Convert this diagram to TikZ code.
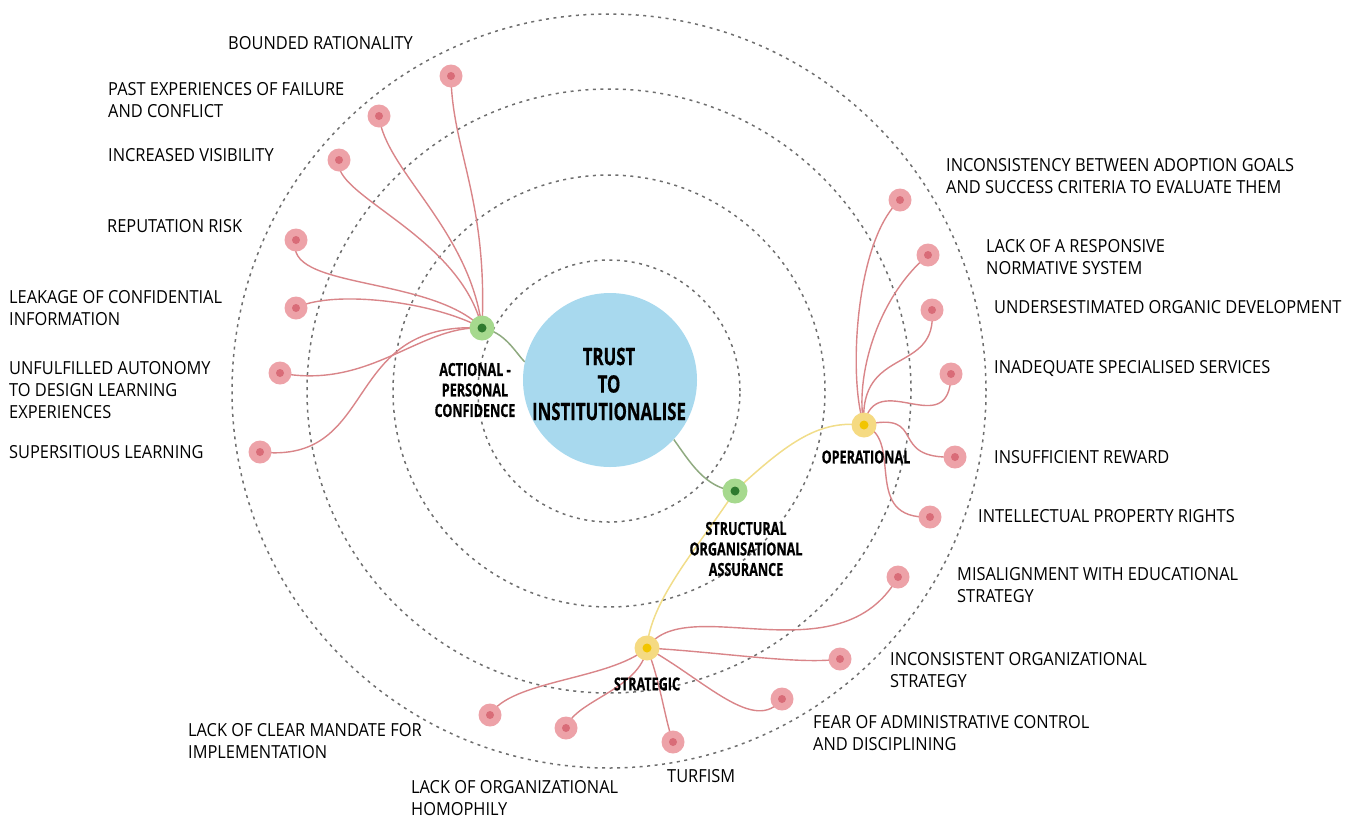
\documentclass[tikz,border=0pt]{standalone}
\usepackage{fontspec}
\setmainfont{Open Sans}
\newfontfamily\lblfont[FakeStretch=0.91]{Open Sans}
\newfontfamily\hubfont[FakeStretch=0.7,FakeBold=0.6]{Open Sans}
\usetikzlibrary{backgrounds}
\definecolor{ring}{HTML}{6E6E6E}
\definecolor{trustblue}{HTML}{A8D9EE}
\definecolor{dotout}{HTML}{EDA2A8}
\definecolor{dotin}{HTML}{D96C78}
\definecolor{pinkline}{HTML}{D98589}
\definecolor{greenout}{HTML}{A6D98E}
\definecolor{greenin}{HTML}{2E7A2E}
\definecolor{yelout}{HTML}{F5DA82}
\definecolor{yelin}{HTML}{F2C500}
\definecolor{greyline}{HTML}{8FAA80}
\definecolor{yelline}{HTML}{F1DD8A}
\tikzset{
  ringline/.style={draw=ring, line width=1.5pt, dash pattern=on 3pt off 4.5pt},
  pdot/.style={circle, fill=dotout, minimum size=23pt, inner sep=0pt,
    path picture={\fill[dotin] (path picture bounding box.center) circle (4pt);}},
  ghub/.style={circle, fill=greenout, minimum size=25pt, inner sep=0pt,
    path picture={\fill[greenin] (path picture bounding box.center) circle (4.5pt);}},
  yhub/.style={circle, fill=yelout, minimum size=25pt, inner sep=0pt,
    path picture={\fill[yelin] (path picture bounding box.center) circle (4.5pt);}},
  lbl/.style={anchor=west, align=left, inner sep=0pt, font=\lblfont\fontsize{18}{22}\selectfont, text=black},
  hublbl/.style={align=center, inner sep=0pt, font=\hubfont\bfseries\fontsize{18}{20.5}\selectfont, text=black},
  pconn/.style={draw=pinkline, line width=1.4pt},
  gconn/.style={draw=greyline, line width=1.5pt},
  yconn/.style={draw=yelline, line width=1.5pt},
}
\begin{document}
\begin{tikzpicture}[x=1pt,y=-1pt]
\useasboundingbox (0,0) rectangle (1363,820);
% rings
\coordinate (ctr) at (609,391);
\begin{scope}[on background layer]
\draw[ringline] (ctr) circle[radius=131pt];
\draw[ringline] (ctr) circle[radius=216pt];
\draw[ringline] (ctr) circle[radius=302pt];
\draw[ringline] (ctr) circle[radius=377pt];
\end{scope}
% central
\node[circle, fill=trustblue, minimum size=174pt, inner sep=0pt] (trust) at (610,380) {};
\node[font=\hubfont\bfseries\fontsize{24}{27.5}\selectfont, align=center, inner sep=0pt] (trustl) at (609,384) {TRUST\\TO\\INSTITUTIONALISE};
% hubs
\node[ghub] (act) at (482,328) {};
\node[ghub] (str) at (735,491) {};
\node[yhub] (ope) at (864,425) {};
\node[yhub] (stg) at (647,648) {};
\node[hublbl] (actl) at (475,390) {ACTIONAL -\\PERSONAL\\CONFIDENCE};
\node[hublbl] (strl) at (746,549) {STRUCTURAL\\ORGANISATIONAL\\ASSURANCE};
\node[hublbl] (opel) at (866,457) {OPERATIONAL};
\node[hublbl] (stgl) at (647,684) {STRATEGIC};
% left dots
\node[pdot] (a1) at (451,76) {};
\node[pdot] (a2) at (379,116) {};
\node[pdot] (a3) at (339,160) {};
\node[pdot] (a4) at (296,240) {};
\node[pdot] (a5) at (296,308) {};
\node[pdot] (a6) at (280,373) {};
\node[pdot] (a7) at (260,452) {};
% right dots
\node[pdot] (o1) at (900,200) {};
\node[pdot] (o2) at (928,255) {};
\node[pdot] (o3) at (932,310) {};
\node[pdot] (o4) at (951,374) {};
\node[pdot] (o5) at (955,457) {};
\node[pdot] (o6) at (930,517) {};
% bottom dots
\node[pdot] (s1) at (898,577) {};
\node[pdot] (s2) at (840,659) {};
\node[pdot] (s3) at (782,699) {};
\node[pdot] (s4) at (673,742) {};
\node[pdot] (s5) at (566,728) {};
\node[pdot] (s6) at (490,715) {};
% labels
\node[lbl] (t1) at (228,43) {BOUNDED RATIONALITY};
\node[lbl] (t2) at (108,100) {PAST EXPERIENCES OF FAILURE\\AND CONFLICT};
\node[lbl] (t3) at (108,155) {INCREASED VISIBILITY};
\node[lbl] (t4) at (107,226) {REPUTATION RISK};
\node[lbl] (t5) at (9,308) {LEAKAGE OF CONFIDENTIAL\\INFORMATION};
\node[lbl] (t6) at (9,390) {UNFULFILLED AUTONOMY\\TO DESIGN LEARNING\\EXPERIENCES};
\node[lbl] (t7) at (9,452) {SUPERSITIOUS LEARNING};
\node[lbl] (r1) at (946,176) {INCONSISTENCY BETWEEN ADOPTION GOALS\\AND SUCCESS CRITERIA TO EVALUATE THEM};
\node[lbl] (r2) at (986,257) {LACK OF A RESPONSIVE\\NORMATIVE SYSTEM};
\node[lbl] (r3) at (994,307) {UNDERSESTIMATED ORGANIC DEVELOPMENT};
\node[lbl] (r4) at (994,368) {INADEQUATE SPECIALISED SERVICES};
\node[lbl] (r5) at (994,457) {INSUFFICIENT REWARD};
\node[lbl] (r6) at (978,516) {INTELLECTUAL PROPERTY RIGHTS};
\node[lbl] (b1) at (957,585) {MISALIGNMENT WITH EDUCATIONAL\\STRATEGY};
\node[lbl] (b2) at (890,670) {INCONSISTENT ORGANIZATIONAL\\STRATEGY};
\node[lbl] (b3) at (813,733) {FEAR OF ADMINISTRATIVE CONTROL\\AND DISCIPLINING};
\node[lbl] (b4) at (667,776) {TURFISM};
\node[lbl] (b5) at (411,798) {LACK OF ORGANIZATIONAL\\HOMOPHILY};
\node[lbl] (b6) at (188,741) {LACK OF CLEAR MANDATE FOR\\IMPLEMENTATION};
% connectors
\begin{scope}[on background layer]
\draw[gconn] (act.center) .. controls (505,332) and (515,352) .. (trust.168);
\draw[gconn] (trust.-43) .. controls (690,462) and (705,488) .. (str.center);
\draw[yconn] (str.center) .. controls (790,440) and (820,420) .. (ope.center);
\draw[yconn] (str.center) .. controls (700,545) and (650,600) .. (stg.center);
% left
\draw[pconn] (a1.center) .. controls (452,150) and (488,200) .. (act.center);
\draw[pconn] (a2.center) .. controls (385,170) and (470,230) .. (act.center);
\draw[pconn] (a3.center) .. controls (330,195) and (460,235) .. (act.center);
\draw[pconn] (a4.center) .. controls (282,290) and (430,275) .. (act.center);
\draw[pconn] (a5.center) .. controls (330,290) and (430,300) .. (act.center);
\draw[pconn] (a6.center) .. controls (370,390) and (420,325) .. (act.center);
\draw[pconn] (a7.center) .. controls (380,465) and (340,320) .. (act.center);
% right
\draw[pconn] (o1.center) .. controls (855,240) and (848,380) .. (ope.center);
\draw[pconn] (o2.center) .. controls (875,300) and (855,380) .. (ope.center);
\draw[pconn] (o3.center) .. controls (938,375) and (858,345) .. (ope.center);
\draw[pconn] (o4.center) .. controls (950,445) and (875,365) .. (ope.center);
\draw[pconn] (ope.center) .. controls (930,410) and (885,460) .. (o5.center);
\draw[pconn] (ope.center) .. controls (905,440) and (860,520) .. (o6.center);
% bottom
\draw[pconn] (stg.center) .. controls (685,590) and (840,680) .. (s1.center);
\draw[pconn] (stg.center) .. controls (720,652) and (800,665) .. (s2.center);
\draw[pconn] (stg.center) .. controls (705,680) and (755,735) .. (s3.center);
\draw[pconn] (stg.center) .. controls (660,680) and (665,720) .. (s4.center);
\draw[pconn] (stg.center) .. controls (640,690) and (575,700) .. (s5.center);
\draw[pconn] (stg.center) .. controls (610,680) and (510,680) .. (s6.center);
\end{scope}
\end{tikzpicture}
\end{document}
